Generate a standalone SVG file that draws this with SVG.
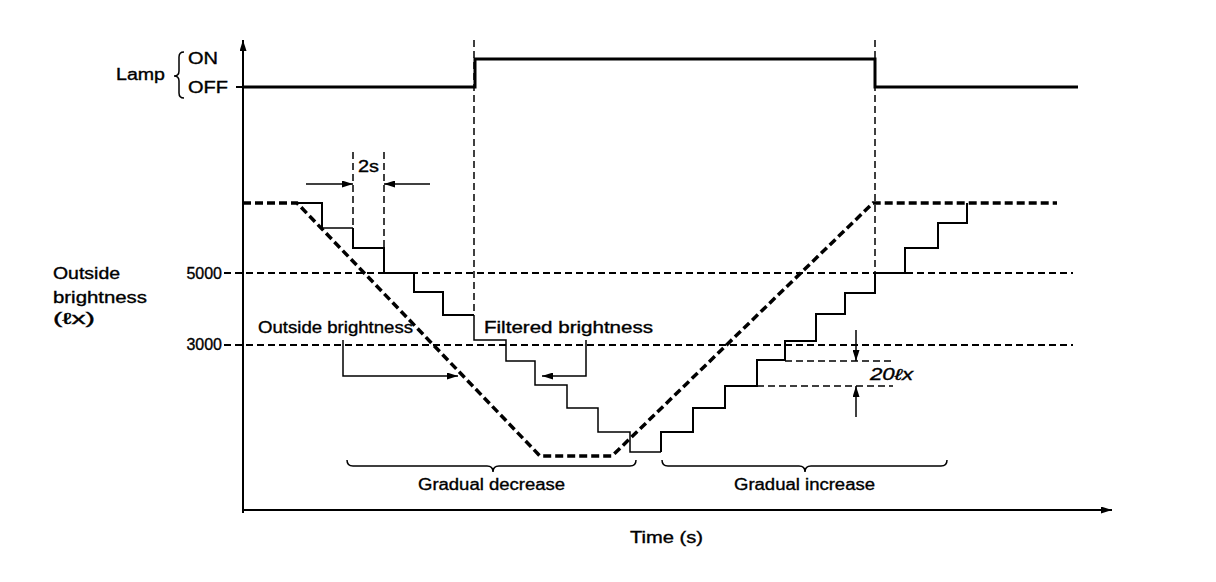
<svg xmlns="http://www.w3.org/2000/svg" width="1216" height="582" viewBox="0 0 1216 582">
<style>
text{font-family:"Liberation Sans",Arial,sans-serif;font-size:16px;fill:#000;stroke:#000;stroke-width:0.35}
.ax{stroke:#000;stroke-width:2;fill:none}
.lamp{stroke:#000;stroke-width:3;fill:none}
.ref{stroke:#000;stroke-width:2;fill:none;stroke-dasharray:7 4}
.vd{stroke:#000;stroke-width:1.5;fill:none;stroke-dasharray:7 4}
.out{stroke:#000;stroke-width:3.5;fill:none;stroke-dasharray:8 4}
.filt{stroke:#000;stroke-width:2;fill:none}
.thin{stroke:#000;stroke-width:1.5;fill:none}
.dl{stroke:#000;stroke-width:1.5;fill:none;stroke-dasharray:7 4}
</style>
<defs>
<marker id="ah" viewBox="0 0 11 7" refX="11" refY="3.5" markerWidth="11" markerHeight="7" markerUnits="userSpaceOnUse" orient="auto">
<path d="M0,0 L11,3.5 L0,7 Z" fill="#000"/>
</marker>
</defs>
<rect width="1216" height="582" fill="#fff"/>
<g id="axes">
<line class="ax" x1="243" y1="513" x2="243" y2="40" marker-end="url(#ah)"/>
<line class="ax" x1="243" y1="510" x2="1112" y2="510" marker-end="url(#ah)"/>
<line class="ax" x1="236" y1="87" x2="243" y2="87"/>
<line class="ax" x1="236" y1="273" x2="243" y2="273"/>
<line class="ax" x1="236" y1="345" x2="243" y2="345"/>
</g>
<g id="lamp-signal">
<path class="lamp" d="M243,87 L475,87 L475,59 L875,59 L875,87 L1078,87"/>
</g>
<g id="reference-lines">
<line class="ref" x1="224" y1="273" x2="1073" y2="273"/>
<line class="ref" x1="224" y1="345" x2="1073" y2="345"/>
<line class="vd" x1="474" y1="40" x2="474" y2="315"/>
<line class="vd" x1="875" y1="40" x2="875" y2="273"/>
<line class="vd" x1="353" y1="152" x2="353" y2="228"/>
<line class="vd" x1="384" y1="152" x2="384" y2="248"/>
</g>
<g id="outside-brightness">
<path class="out" d="M243,203 L297,203 L540,456 L612,456 L873,203 L1057,203"/>
</g>
<g id="filtered-brightness">
<path class="filt" d="M297,203 L322,203 L322,228"/>
<path class="thin" d="M322,228 L353,228"/>
<path class="filt" d="M353,228 L353,248 L384,248 L384,273 L414,273 L414,292 L443,292 L443,315 L474,315"/>
<path class="thin" d="M474,315 L474,340 L506,340 L506,361 L535,361 L535,385 L567,385 L567,408 L598,408 L598,432 L630,432 L630,452 L661,452"/>
<path class="filt" d="M661,452 L661,432 L693,432 L693,408 L725,408 L725,386 L757,386 L757,360 L785,360 L785,341 L816,341 L816,314 L845,314 L845,293 L875,293 L875,273 L905,273 L905,248 L938,248 L938,223 L967,223 L967,203"/>
</g>
<g id="connectors">
<line class="thin" x1="306" y1="184" x2="353" y2="184" marker-end="url(#ah)"/>
<line class="thin" x1="430" y1="184" x2="384" y2="184" marker-end="url(#ah)"/>
<path class="thin" d="M343,340 L343,376 L458,376" marker-end="url(#ah)"/>
<path class="thin" d="M586,340 L586,376 L542,376" marker-end="url(#ah)"/>
<line class="dl" x1="785" y1="361" x2="892" y2="361"/>
<line class="dl" x1="757" y1="386" x2="893" y2="386"/>
<line class="thin" x1="856" y1="330" x2="856" y2="361" marker-end="url(#ah)"/>
<line class="thin" x1="856" y1="417" x2="856" y2="386" marker-end="url(#ah)"/>
</g>
<g id="braces">
<path class="thin" d="M184,52 Q179,52 179,57 L179,71 Q179,76 174,76 Q179,76 179,81 L179,93 Q179,98 184,98"/>
<path class="thin" d="M347,460 Q347,466 353,466 L487,466 Q493,466 493,472 Q493,466 499,466 L630,466 Q636,466 636,460"/>
<path class="thin" d="M662,460 Q662,466 668,466 L799,466 Q805,466 805,472 Q805,466 811,466 L941,466 Q947,466 947,460"/>
</g>
<g id="labels">
<text x="116" y="80" textLength="49" lengthAdjust="spacingAndGlyphs">Lamp</text>
<text x="188" y="64" textLength="30" lengthAdjust="spacingAndGlyphs">ON</text>
<text x="188" y="93" textLength="40" lengthAdjust="spacingAndGlyphs">OFF</text>
<text x="53" y="279" textLength="67" lengthAdjust="spacingAndGlyphs">Outside</text>
<text x="53" y="303" textLength="94" lengthAdjust="spacingAndGlyphs">brightness</text>
<text x="53" y="324" textLength="42" lengthAdjust="spacingAndGlyphs">(ℓx)</text>
<text x="222" y="279" text-anchor="end">5000</text>
<text x="222" y="350" text-anchor="end">3000</text>
<text x="358" y="172" textLength="21" lengthAdjust="spacingAndGlyphs">2s</text>
<text x="258" y="333" textLength="155" lengthAdjust="spacingAndGlyphs">Outside brightness</text>
<text x="484" y="333" textLength="169" lengthAdjust="spacingAndGlyphs">Filtered brightness</text>
<text x="870" y="380" font-style="italic" textLength="43" lengthAdjust="spacingAndGlyphs">20ℓx</text>
<text x="418" y="490" textLength="147" lengthAdjust="spacingAndGlyphs">Gradual decrease</text>
<text x="734" y="490" textLength="141" lengthAdjust="spacingAndGlyphs">Gradual increase</text>
<text x="630" y="543" textLength="73" lengthAdjust="spacingAndGlyphs">Time (s)</text>
</g>
</svg>
